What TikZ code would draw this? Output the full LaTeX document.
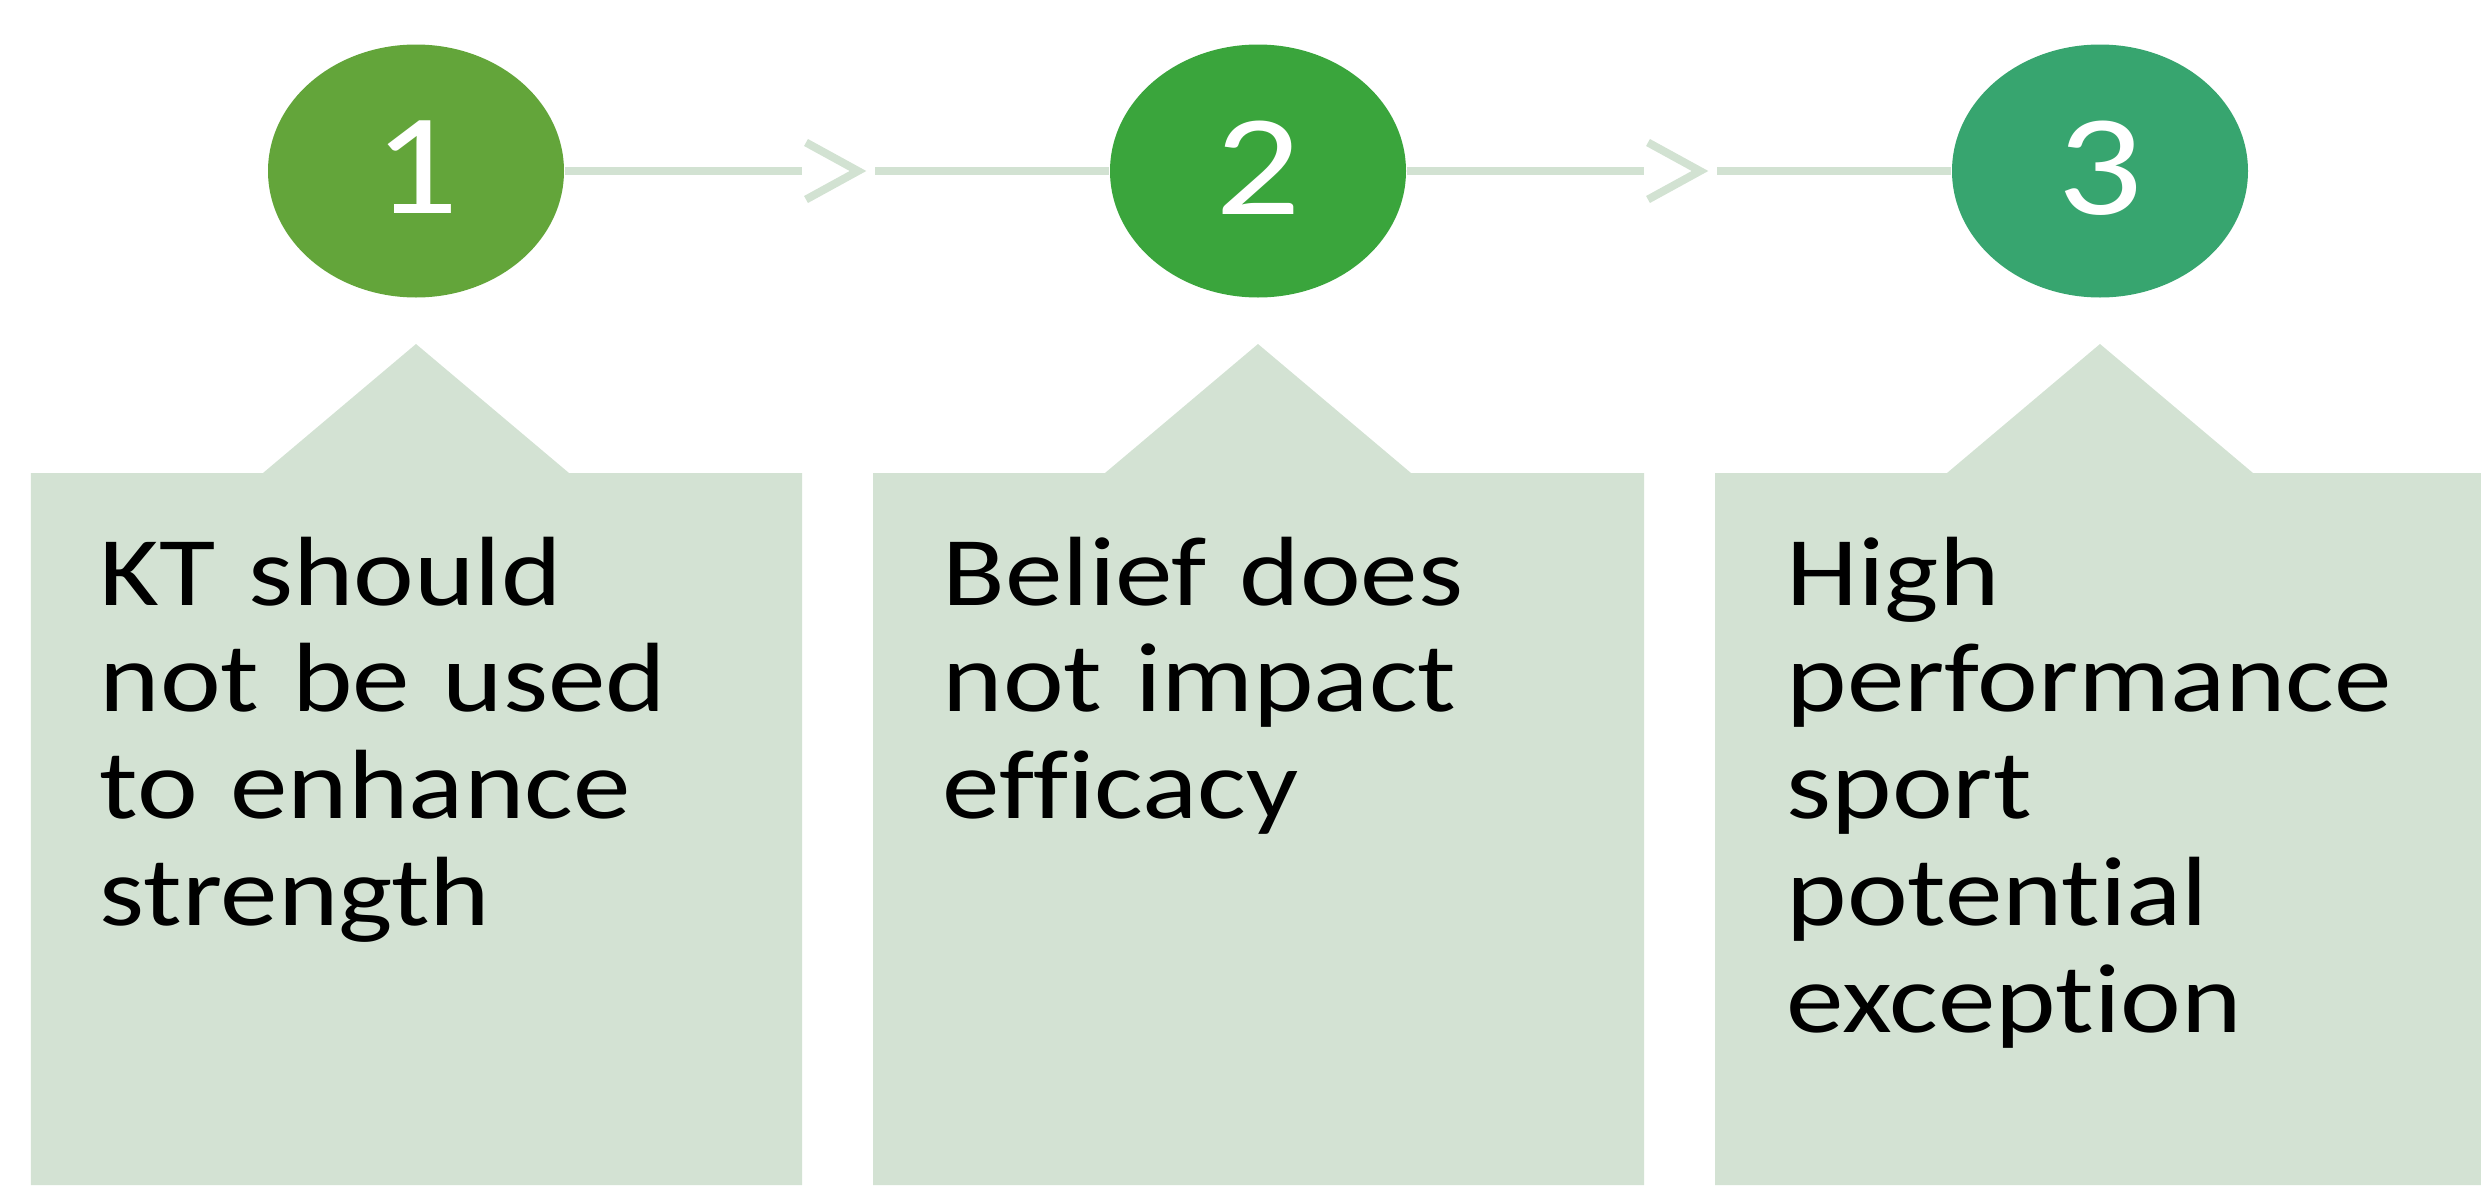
\documentclass[tikz,border=0pt]{standalone}
\usepackage{fontspec}
\setmainfont[FakeStretch=1.17,Ligatures=CommonOff]{Carlito}
\usetikzlibrary{shapes.geometric}

\definecolor{stageone}{HTML}{63A53A}
\definecolor{stagetwo}{HTML}{3AA53C}
\definecolor{stagethree}{HTML}{37A56F}
\definecolor{cardfill}{HTML}{D3E2D3}
\definecolor{linkcol}{HTML}{D2E2D2}

\newcommand{\stagenum}[4][]{\node[ellipse,fill=#1,minimum width=2.96cm,minimum height=2.53cm,inner sep=0pt,text=white,font=\fontsize{41}{44}\selectfont] at (#2) (#3) {\raisebox{0.7mm}{#4}}}
\newcommand{\chevron}[1]{\draw[link] ([xshift=-0.52cm,yshift=0.285cm]#1) -- (#1) -- ([xshift=-0.52cm,yshift=-0.285cm]#1)}

\begin{document}
\begin{tikzpicture}[
		link/.style={draw=linkcol,line width=0.08cm},
		card/.style={fill=cardfill},
		cardtext/.style={anchor=base west,inner sep=0pt,text width=7cm,align=left,font=\fontsize{28}{30.4}\selectfont}
	]
	\useasboundingbox (0,0) rectangle (24.81,11.85);
	
	% boxes with their pointers
	\fill[card] (0.31,0) -- (0.31,7.12) -- (2.63,7.12) -- (4.16,8.41) -- (5.69,7.12) -- (8.02,7.12) -- (8.02,0) -- cycle;
	\fill[card] (8.73,0) -- (8.73,7.12) -- (11.05,7.12) -- (12.58,8.41) -- (14.11,7.12) -- (16.44,7.12) -- (16.44,0) -- cycle;
	\fill[card] (17.15,0) -- (17.15,7.12) -- (19.47,7.12) -- (21.00,8.41) -- (22.53,7.12) -- (24.86,7.12) -- (24.86,0) -- cycle;
	
	\node[cardtext] at (0.99,5.80) (txt1) {KT should\\not be used\\to enhance\\strength};
	\node[cardtext] at (9.42,5.80) (txt2) {Belief does\\not impact\\efficacy};
	\node[cardtext] at (17.86,5.80) (txt3) {High\\performance\\sport\\potential\\exception};
	
	% numbered steps
	\stagenum[stageone]{4.16,10.14}{n1}{1};
	\stagenum[stagetwo]{12.58,10.14}{n2}{2};
	\stagenum[stagethree]{21.00,10.14}{n3}{3};
	
	\coordinate (a1) at (8.02,10.14);
	\coordinate (t1) at (8.58,10.14);
	\coordinate (b1) at (8.75,10.14);
	\coordinate (a2) at (16.44,10.14);
	\coordinate (t2) at (17.00,10.14);
	\coordinate (b2) at (17.17,10.14);
	
	\draw[link] (n1) -- (a1);
	\chevron{t1};
	\draw[link] (b1) -- (n2);
	
	\draw[link] (n2) -- (a2);
	\chevron{t2};
	\draw[link] (b2) -- (n3);
\end{tikzpicture}
\end{document}
